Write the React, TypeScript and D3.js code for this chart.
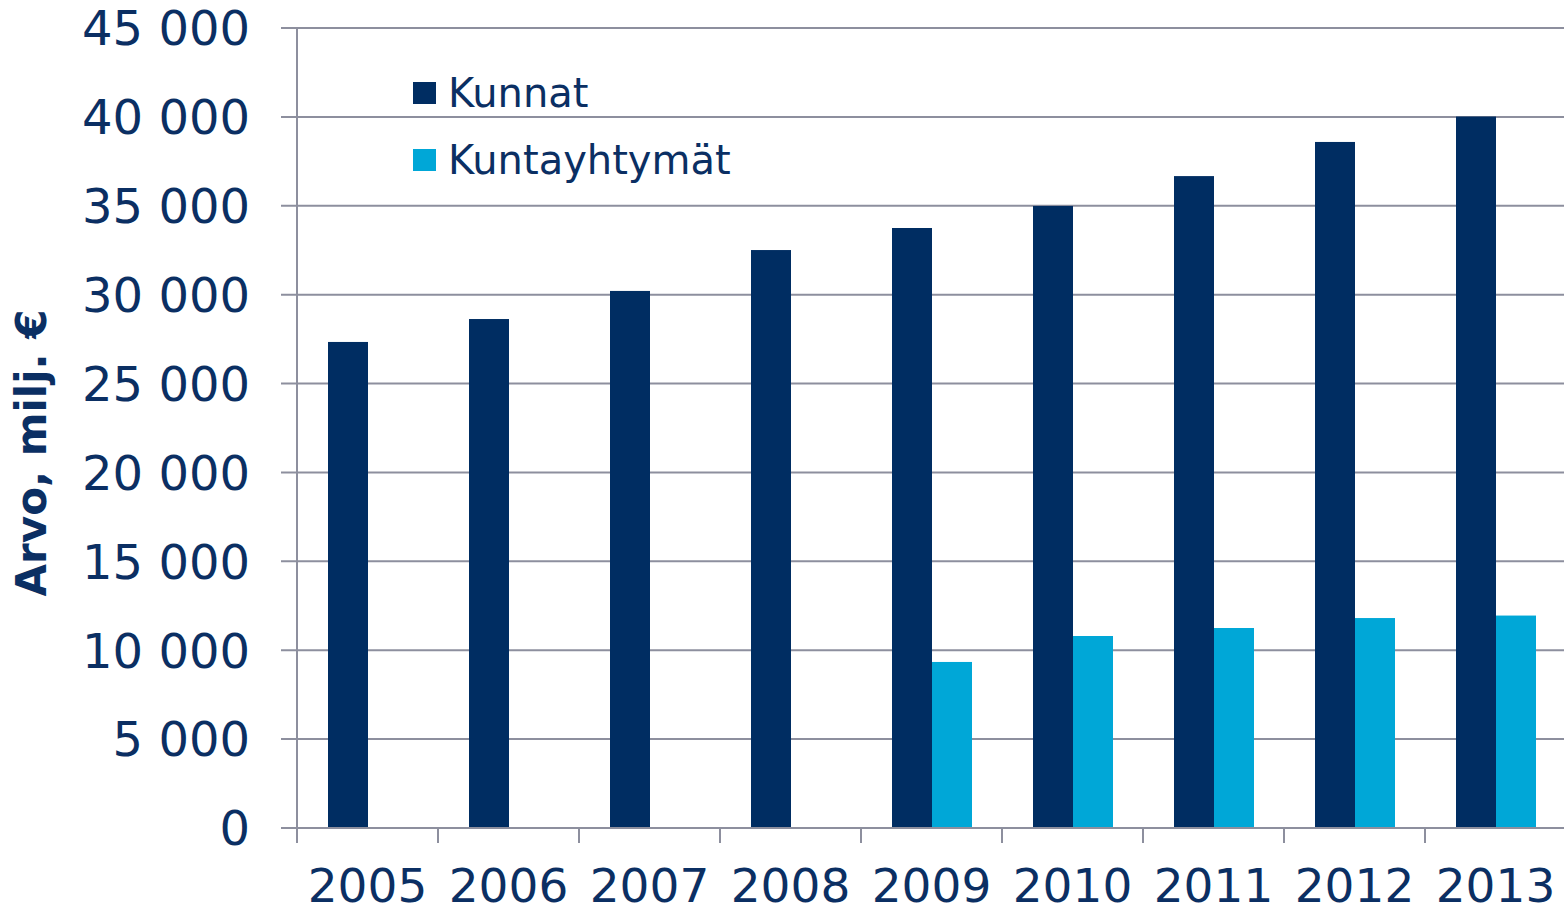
import React from 'react';
import * as d3 from 'd3';

const years = ['2005', '2006', '2007', '2008', '2009', '2010', '2011', '2012', '2013'];
const kunnat = [27340, 28630, 30210, 32510, 33750, 34990, 36670, 38590, 40020];
const kuntayhtymat: (number | null)[] = [null, null, null, null, 9340, 10800, 11250, 11810, 11950];
const seriesNames = ['Kunnat', 'Kuntayhtymät'];
const yTicks = [0, 5000, 10000, 15000, 20000, 25000, 30000, 35000, 40000, 45000];

const W = 1564;
const H = 914;
const left = 297;
const right = 1566;
const top = 28;
const bottom = 828;

const navy = '#002D62';
const cyan = '#00A7D7';
const textColor = '#0B2F63';
const gridColor = '#8D8F9E';
const font = '"DejaVu Sans", Verdana, sans-serif';

const fmt = (v: number) => d3.format(',')(v).replace(/,/g, ' ');

export default function App() {
  const x0 = d3.scaleBand<string>().domain(years).range([left, right]).padding(0);
  const bw = x0.bandwidth();
  const groupW = 80;
  const x1 = d3.scaleBand<string>().domain(seriesNames).range([0, groupW]).padding(0);
  const off = (bw - groupW) / 2 + 0.5;
  const y = d3.scaleLinear().domain([0, 45000]).range([bottom, top]);
  const color = d3.scaleOrdinal<string, string>().domain(seriesNames).range([navy, cyan]);

  const series = [kunnat, kuntayhtymat];

  return (
    <svg width={W} height={H} style={{ position: 'absolute', left: 0, top: 0 }}>
      {/* gridlines + y ticks */}
      {yTicks.map((t) => (
        <g key={t}>
          <line x1={281} x2={W} y1={y(t)} y2={y(t)} stroke={gridColor} strokeWidth={2} />
          <text
            x={250}
            y={y(t)}
            dy="0.36em"
            textAnchor="end"
            fontFamily={font}
            fontSize={48}
            fill={textColor}
          >
            {fmt(t)}
          </text>
        </g>
      ))}
      <line x1={left} x2={left} y1={top} y2={bottom} stroke={gridColor} strokeWidth={2} />

      {/* bars */}
      {series.map((vals, si) =>
        vals.map((v, i) =>
          v == null ? null : (
            <rect
              key={si + '-' + i}
              x={(x0(years[i]) as number) + off + (x1(seriesNames[si]) as number)}
              y={y(v)}
              width={x1.bandwidth()}
              height={bottom - y(v)}
              fill={color(seriesNames[si])}
            />
          )
        )
      )}

      {/* x axis */}
      <line x1={281} x2={W} y1={bottom} y2={bottom} stroke={gridColor} strokeWidth={2} />
      {years.map((yr) => (
        <g key={yr}>
          <line
            x1={x0(yr) as number}
            x2={x0(yr) as number}
            y1={bottom}
            y2={843}
            stroke={gridColor}
            strokeWidth={2}
          />
          <text
            x={(x0(yr) as number) + bw / 2}
            y={902}
            textAnchor="middle"
            fontFamily={font}
            fontSize={47}
            fill={textColor}
          >
            {yr}
          </text>
        </g>
      ))}

      {/* axis title */}
      <text
        transform="translate(46, 453) rotate(-90)"
        textAnchor="middle"
        fontFamily={font}
        fontWeight="bold"
        fontSize={42}
        fill={textColor}
      >
        Arvo, milj. €
      </text>

      {/* legend */}
      {seriesNames.map((n, i) => (
        <g key={n} transform={`translate(413, ${82 + i * 67})`}>
          <rect width={23} height={22} fill={color(n)} />
          <text x={35} y={25} fontFamily={font} fontSize={40} fill={textColor}>
            {n}
          </text>
        </g>
      ))}
    </svg>
  );
}
